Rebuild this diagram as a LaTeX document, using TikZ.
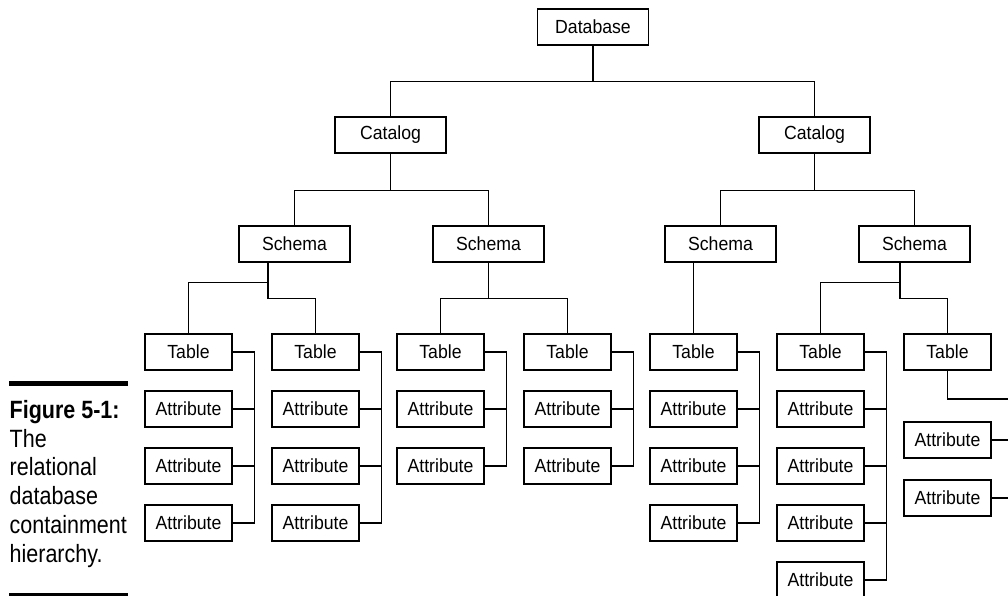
\documentclass[tikz,border=0pt]{standalone}
\usepackage{fontspec}
\setmainfont{Liberation Sans}[FakeStretch=0.93]
\newfontfamily\capfont{Liberation Sans}[FakeStretch=0.86]
\usepackage{tikz}

\begin{document}
\begin{tikzpicture}[x=1pt,y=-1pt,line width=1.4pt]
        \tikzstyle{every node}=[draw,font=\fontsize{19}{21}\selectfont,inner sep=0pt,minimum height=36pt]
        \tikzstyle{big}=[minimum width=111pt]
        \tikzstyle{small}=[minimum width=87pt]
            \useasboundingbox (0,0) rectangle (1008,596);

            % upper levels
            \node[big] (db) at (593,27) {Database};
            \node[big] (catL) at (390.5,135) {Catalog};
            \node[big] (catR) at (814.5,135) {Catalog};
            \node[big] (sch1) at (294.5,244) {Schema};
            \node[big] (sch2) at (488.5,244) {Schema};
            \node[big] (sch3) at (720.5,244) {Schema};
            \node[big] (sch4) at (914.5,244) {Schema};

            \draw (db.south) -- ++(0,36) -| (catL.north)
            (db.south) -- ++(0,36) -| (catR.north)
            (catL.south) -- ++(0,37) -| (sch1.north)
            (catL.south) -- ++(0,37) -| (sch2.north)
            (catR.south) -- ++(0,37) -| (sch3.north)
            (catR.south) -- ++(0,37) -| (sch4.north);

            % tables with their attributes
            \foreach \i/\x/\n in {1/188.5/3, 2/315.5/3, 3/440.5/2, 4/567.5/2, 5/693.5/3, 6/820.5/4} {
                \node[small] (t\i) at (\x,352) {Table};
                \foreach \k in {1,...,\n}
                    \node[small] (a\i\k) at (\x,{352+57*\k}) {Attribute};
                \draw (t\i.east) -- ++(22,0) coordinate (b\i) |- (a\i\n.east);
                \foreach \k in {1,...,\n}
                    \draw (a\i\k.east) -- (a\i\k.east -| b\i);
            }

            \node[small] (t7) at (947.5,352) {Table};
            \node[small] (a71) at (947.5,440) {Attribute};
            \node[small] (a72) at (947.5,498) {Attribute};
            \coordinate (e7) at (1008,399);

            \draw ([xshift=-26.5pt]sch1.south) -- ++(0,20) -| (t1.north)
            ([xshift=-26.5pt]sch1.south) -- ++(0,36) -| (t2.north)
            (sch2.south) -- ++(0,36) -| (t3.north)
            (sch2.south) -- ++(0,36) -| (t4.north)
            (sch3.south -| t5.north) -- (t5.north)
            ([xshift=-14.5pt]sch4.south) -- ++(0,20) -| (t6.north)
            ([xshift=-14.5pt]sch4.south) -- ++(0,36) -| (t7.north)
            (t7.south) |- (e7)
            (a71.east) -- (a71.east -| e7)
            (a72.east) -- (a72.east -| e7);

            % caption
            \fill (9,381) rectangle (128,385.5);
            \fill (9,593) rectangle (128,597.5);
            \node[draw=none,anchor=north west,align=left,font=\capfont\fontsize{25}{28.8}\selectfont] (cap) at (9,399.5)
                {\textbf{Figure 5-1:}\\The\\relational\\database\\containment\\hierarchy.};
        \end{tikzpicture}
\end{document}
